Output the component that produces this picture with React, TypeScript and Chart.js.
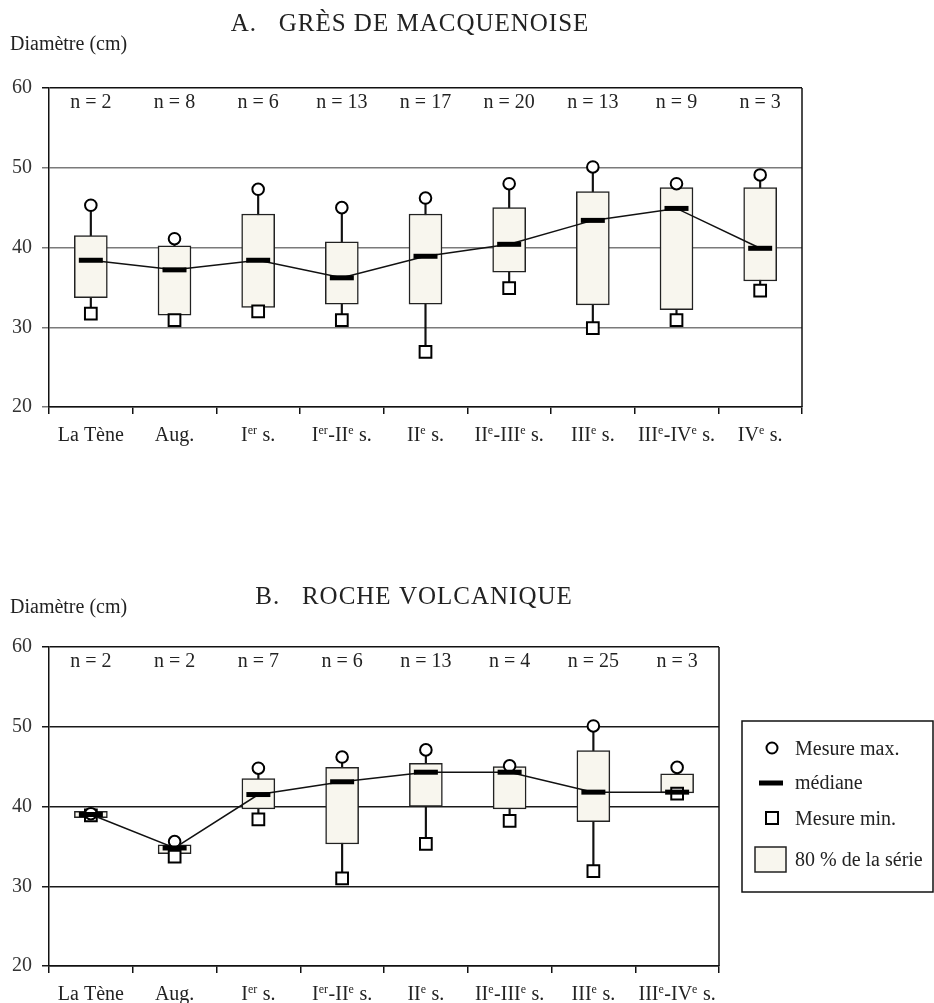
import React, { useEffect, useRef } from "react";
import { Chart, registerables } from "chart.js";

Chart.register(...registerables);

const FONT = "'Liberation Serif', 'Times New Roman', serif";
const TEXT = "#222";
const FILL = "#F8F6EE";

// ---------- A. Grès de Macquenoise ----------
const categoriesA = ["La Tène", "Aug.", "Iᵉʳ s.", "Iᵉʳ-IIᵉ s.", "IIᵉ s.", "IIᵉ-IIIᵉ s.", "IIIᵉ s.", "IIIᵉ-IVᵉ s.", "IVᵉ s."];
const countsA = [2, 8, 6, 13, 17, 20, 13, 9, 3];
const maxA = [45.3, 41.1, 47.3, 45.0, 46.2, 48.0, 50.1, 48.0, 49.1];
const highA = [41.5, 40.2, 44.2, 40.7, 44.2, 45.0, 47.0, 47.5, 47.5];
const medianA = [38.4, 37.2, 38.4, 36.2, 38.9, 40.4, 43.4, 44.9, 39.9];
const lowA = [33.7, 31.5, 32.5, 32.9, 32.9, 36.9, 32.8, 32.2, 35.8];
const minA = [31.7, 30.9, 32.0, 30.9, 26.9, 34.9, 29.9, 30.9, 34.6];

// ---------- B. Roche volcanique ----------
const categoriesB = ["La Tène", "Aug.", "Iᵉʳ s.", "Iᵉʳ-IIᵉ s.", "IIᵉ s.", "IIᵉ-IIIᵉ s.", "IIIᵉ s.", "IIIᵉ-IVᵉ s."];
const countsB = [2, 2, 7, 6, 13, 4, 25, 3];
const maxB = [39.1, 35.6, 44.8, 46.2, 47.1, 45.1, 50.1, 44.9];
const highB = [39.4, 35.2, 43.5, 44.9, 45.4, 45.0, 47.0, 44.1];
const medianB = [39.0, 34.8, 41.5, 43.1, 44.3, 44.3, 41.8, 41.8];
const lowB = [38.6, 34.1, 39.7, 35.3, 40.0, 39.7, 38.1, 41.7];
const minB = [38.9, 33.7, 38.4, 31.0, 35.3, 38.2, 31.9, 41.6];

const yTicks = [20, 30, 40, 50, 60];
const yLabel = "Diamètre (cm)";
const titleA = "A.   GRÈS DE MACQUENOISE";
const titleB = "B.   ROCHE VOLCANIQUE";
const legendLabels = ["Mesure max.", "médiane", "Mesure min.", "80 % de la série"];

const SUP: Record<string, string> = { "ᵉ": "e", "ʳ": "r" };

function drawRich(ctx: CanvasRenderingContext2D, text: string, cx: number, baseline: number) {
  const base = `20px ${FONT}`;
  const sup = `12px ${FONT}`;
  const segs: { t: string; s: boolean }[] = [];
  for (const ch of Array.from(text)) {
    const isSup = ch in SUP;
    const c = isSup ? SUP[ch] : ch;
    const last = segs[segs.length - 1];
    if (last && last.s === isSup) last.t += c;
    else segs.push({ t: c, s: isSup });
  }
  let total = 0;
  const widths = segs.map((sg) => {
    ctx.font = sg.s ? sup : base;
    const w = ctx.measureText(sg.t).width + (sg.s ? 0.5 : 0);
    total += w;
    return w;
  });
  let x = cx - total / 2;
  ctx.textAlign = "left";
  ctx.textBaseline = "alphabetic";
  segs.forEach((sg, i) => {
    ctx.font = sg.s ? sup : base;
    ctx.fillText(sg.t, x, sg.s ? baseline - 7.5 : baseline);
    x += widths[i];
  });
}

type Panel = {
  top: number;
  height: number;
  plotTop: number;
  plotBottom: number;
  plotRight: number;
  gridColor: string;
  categories: string[];
  counts: number[];
  max: number[];
  high: number[];
  median: number[];
  low: number[];
  min: number[];
  title: string;
  titleCenter: number;
  titleBaseline: number;
  yLabelBaseline: number;
  legend: boolean;
};

const panelA: Panel = {
  top: 0, height: 480, plotTop: 88, plotBottom: 407, plotRight: 802, gridColor: "#7a7a7a",
  categories: categoriesA, counts: countsA, max: maxA, high: highA, median: medianA, low: lowA, min: minA,
  title: titleA, titleCenter: 410, titleBaseline: 31, yLabelBaseline: 50, legend: false,
};
const panelB: Panel = {
  top: 540, height: 463, plotTop: 647, plotBottom: 966, plotRight: 719, gridColor: "#1a1a1a",
  categories: categoriesB, counts: countsB, max: maxB, high: highB, median: medianB, low: lowB, min: minB,
  title: titleB, titleCenter: 414, titleBaseline: 604, yLabelBaseline: 613, legend: true,
};

function buildChart(canvas: HTMLCanvasElement, p: Panel) {
  const W = 934;
  const off = p.top;
  const plugin = {
    id: "decor",
    afterDraw(chart: any) {
      const ctx: CanvasRenderingContext2D = chart.ctx;
      const area = chart.chartArea;
      const xs = chart.scales.x;
      ctx.save();
      // right border
      ctx.strokeStyle = "#111";
      ctx.lineWidth = 1.5;
      ctx.beginPath();
      ctx.moveTo(area.right, area.top);
      ctx.lineTo(area.right, area.bottom);
      ctx.stroke();
      ctx.fillStyle = TEXT;
      // title
      ctx.font = `25px ${FONT}`;
      (ctx as any).letterSpacing = "1px";
      ctx.textAlign = "center";
      ctx.textBaseline = "alphabetic";
      ctx.fillText(p.title, p.titleCenter, p.titleBaseline - off);
      (ctx as any).letterSpacing = "0px";
      // axis label
      ctx.font = `20px ${FONT}`;
      ctx.textAlign = "left";
      ctx.fillText(yLabel, 10, p.yLabelBaseline - off);
      // n labels
      ctx.textAlign = "center";
      p.counts.forEach((n, i) => {
        ctx.fillText(`n = ${n}`, xs.getPixelForValue(i), area.top + 20);
      });
      // x labels
      p.categories.forEach((c, i) => {
        drawRich(ctx, c, xs.getPixelForValue(i), area.bottom + 34);
      });
      // legend
      if (p.legend) {
        const L = 742, T = 721 - off, R = 933, B = 892 - off;
        ctx.strokeStyle = "#111";
        ctx.lineWidth = 1.5;
        ctx.strokeRect(L, T, R - L, B - T);
        ctx.lineWidth = 2;
        ctx.strokeStyle = "#000";
        // circle
        ctx.beginPath();
        ctx.arc(772, 748 - off, 5.5, 0, Math.PI * 2);
        ctx.stroke();
        // median
        ctx.lineWidth = 5;
        ctx.beginPath();
        ctx.moveTo(759, 783 - off);
        ctx.lineTo(783, 783 - off);
        ctx.stroke();
        // square
        ctx.lineWidth = 2;
        ctx.strokeRect(766, 812 - off, 12, 12);
        // swatch
        ctx.fillStyle = FILL;
        ctx.fillRect(755, 847 - off, 31, 25);
        ctx.lineWidth = 1.5;
        ctx.strokeStyle = "#222";
        ctx.strokeRect(755, 847 - off, 31, 25);
        ctx.fillStyle = TEXT;
        ctx.font = `20px ${FONT}`;
        ctx.textAlign = "left";
        const ys = [755, 789, 825, 866];
        legendLabels.forEach((t, i) => ctx.fillText(t, 795, ys[i] - off));
      }
      ctx.restore();
    },
  };

  return new Chart(canvas, {
    type: "bar",
    data: {
      labels: p.categories,
      datasets: [
        {
          type: "line",
          label: "médiane",
          data: p.median,
          borderColor: "#111",
          borderWidth: 1.5,
          tension: 0,
          pointStyle: "line",
          pointRadius: 12,
          pointBorderWidth: 5,
          pointBorderColor: "#000",
          pointBackgroundColor: "#000",
        } as any,
        {
          type: "line",
          label: "Mesure max.",
          data: p.max,
          showLine: false,
          pointStyle: "circle",
          pointRadius: 5.8,
          pointBorderWidth: 2,
          pointBorderColor: "#000",
          pointBackgroundColor: "#fff",
        } as any,
        {
          type: "line",
          label: "Mesure min.",
          data: p.min,
          showLine: false,
          pointStyle: "rect",
          pointRadius: 8.3,
          pointBorderWidth: 2,
          pointBorderColor: "#000",
          pointBackgroundColor: "#fff",
        } as any,
        {
          type: "bar",
          label: "80 % de la série",
          data: p.low.map((v, i) => [v, p.high[i]]),
          backgroundColor: FILL,
          borderColor: "#222",
          borderWidth: 1.5,
          borderSkipped: false,
          barThickness: 33,
          grouped: false,
        } as any,
        {
          type: "bar",
          label: "whisker",
          data: p.min.map((v, i) => [v, p.max[i]]),
          backgroundColor: "#111",
          borderWidth: 0,
          barThickness: 1.5,
          grouped: false,
        } as any,
      ],
    },
    options: {
      responsive: false,
      animation: false,
      devicePixelRatio: 1,
      layout: { padding: { left: 0, top: p.plotTop - off, right: W - p.plotRight, bottom: 0 } },
      plugins: { legend: { display: false }, tooltip: { enabled: false }, title: { display: false } },
      scales: {
        x: {
          type: "category",
          offset: true,
          grid: { offset: true, drawOnChartArea: false, drawTicks: true, tickLength: 7, color: "#111", lineWidth: 1.5 },
          border: { color: "#111", width: 1.5 },
          ticks: { display: false },
          afterFit: (s: any) => { s.height = p.height - (p.plotBottom - off); },
        },
        y: {
          min: yTicks[0],
          max: yTicks[yTicks.length - 1],
          afterBuildTicks: (s: any) => { s.ticks = yTicks.map((v) => ({ value: v })); },
          ticks: { font: { family: FONT, size: 20 }, color: "#333", padding: 10 },
          grid: {
            color: (c: any) => (c.tick && c.tick.value === 60 ? "#111" : p.gridColor),
            lineWidth: 1.5,
            tickLength: 7,
            drawTicks: true,
          },
          border: { color: "#111", width: 1.5 },
          afterFit: (s: any) => { s.width = 49; },
        },
      },
    } as any,
    plugins: [plugin],
  });
}

function ChartPanel({ p }: { p: Panel }) {
  const ref = useRef<HTMLCanvasElement>(null);
  useEffect(() => {
    if (!ref.current) return;
    const c = buildChart(ref.current, p);
    return () => c.destroy();
  }, [p]);
  return (
    <canvas
      ref={ref}
      width={934}
      height={p.height}
      style={{ position: "absolute", left: 0, top: p.top, width: 934, height: p.height }}
    />
  );
}

export default function App() {
  return (
    <div style={{ position: "absolute", left: 0, top: 0, width: 934, height: 1003, background: "#fff", overflow: "hidden" }}>
      <ChartPanel p={panelA} />
      <ChartPanel p={panelB} />
    </div>
  );
}
